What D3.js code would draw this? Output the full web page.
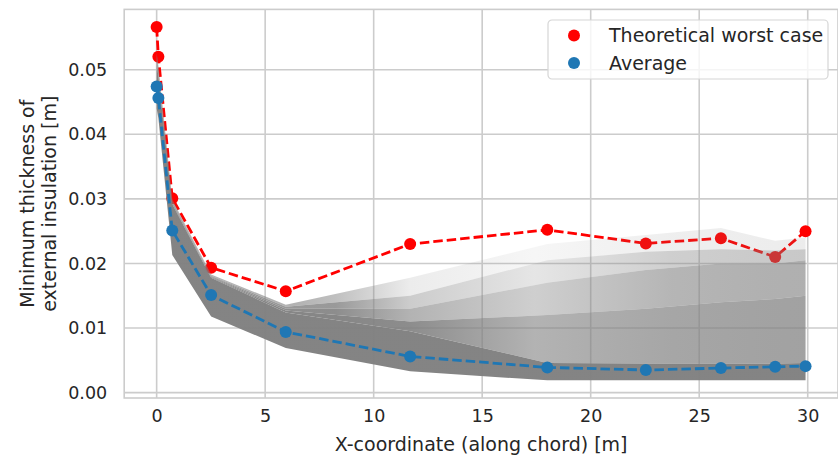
<!DOCTYPE html>
<html>
<head>
<meta charset="utf-8">
<script src="https://cdn.jsdelivr.net/npm/d3@7"></script>
<style>
  body { margin: 0; background: #fff; }
  svg text { font-family: "DejaVu Sans", sans-serif; fill: #262626; }
</style>
</head>
<body>
<svg id="chart" width="838" height="460"></svg>
<script>
// DATA: x positions along the chord [m]
const xPos = [0, 0.08, 0.72, 2.51, 5.95, 11.68, 18.0, 22.54, 26.0, 28.5, 29.9];

// worst case + average thickness [m]
const worstCase = [0.0566, 0.0520, 0.0301, 0.01935, 0.0157, 0.0230, 0.0252, 0.0231, 0.0239, 0.0210, 0.0250];
const average   = [0.0474, 0.0456, 0.0251, 0.0151, 0.0094, 0.0056, 0.0039, 0.0035, 0.0038, 0.0040, 0.0041];

// envelope of the simulated runs (grey band), bottom -> top
const runsLow   = [0.0440, 0.0425, 0.0213, 0.0118, 0.0069, 0.0033, 0.0019, 0.0019, 0.0019, 0.0019, 0.0019];
const runsDense = [0.0510, 0.0490, 0.0292, 0.0178, 0.0124, 0.0095, 0.0046, 0.0045, 0.0045, 0.0045, 0.0046];
const runsQ1    = [0.0514, 0.0494, 0.0294, 0.0179, 0.0127, 0.0110, 0.0120, 0.0130, 0.0140, 0.0145, 0.0150];
const runsQ2    = [0.0518, 0.0498, 0.0296, 0.0180, 0.0130, 0.0130, 0.0170, 0.0190, 0.0200, 0.0200, 0.0205];
const runsQ3    = [0.0522, 0.0502, 0.0297, 0.0181, 0.0133, 0.0150, 0.0205, 0.0218, 0.0222, 0.0220, 0.0222];
const runsTop   = [0.0526, 0.0506, 0.0299, 0.0183, 0.0136, 0.0178, 0.0230, 0.0244, 0.0255, 0.0235, 0.0240];

const xTicks = [0, 5, 10, 15, 20, 25, 30];
const yTicks = [0, 0.01, 0.02, 0.03, 0.04, 0.05];
const legendLabels = ["Theoretical worst case", "Average"];

// SETUP
const margin = { top: 9.4, right: 0, bottom: 62, left: 124.2 },
      width = 838 - margin.left - margin.right,
      height = 460 - margin.top - margin.bottom;

const root = d3.select("#chart");
const defs = root.append("defs");
const svg = root.append("g")
    .attr("transform", `translate(${margin.left},${margin.top})`);

// SCALES (matplotlib style 5% margins)
const xExt = d3.extent(xPos);
const xPad = (xExt[1] - xExt[0]) * 0.05;
const x = d3.scaleLinear()
    .domain([xExt[0] - xPad, xExt[1] + xPad])
    .range([0, width]);

const yExt = d3.extent(worstCase.concat(runsLow));
const yPad = (yExt[1] - yExt[0]) * 0.05;
const y = d3.scaleLinear()
    .domain([yExt[0] - yPad, yExt[1] + yPad])
    .range([height, 0]);

// GRID
svg.append("g")
    .selectAll("line")
    .data(xTicks)
    .join("line")
    .attr("x1", d => x(d)).attr("x2", d => x(d))
    .attr("y1", 0).attr("y2", height)
    .attr("stroke", "#cccccc")
    .attr("stroke-width", 1.6);

svg.append("g")
    .selectAll("line")
    .data(yTicks)
    .join("line")
    .attr("x1", 0).attr("x2", width)
    .attr("y1", d => y(d)).attr("y2", d => y(d))
    .attr("stroke", "#cccccc")
    .attr("stroke-width", 1.6);

// frame
svg.append("rect")
    .attr("x", 0).attr("y", 0)
    .attr("width", width).attr("height", height)
    .attr("fill", "none")
    .attr("stroke", "#cccccc")
    .attr("stroke-width", 1.6);

// AXES (labels only, seaborn whitegrid has no tick marks)
const xAxis = svg.append("g")
    .attr("transform", `translate(0,${height})`)
    .call(d3.axisBottom(x).tickValues(xTicks).tickSize(0).tickPadding(12).tickFormat(d3.format("d")));
xAxis.select(".domain").remove();
xAxis.selectAll("text").style("font-size", "17.5px").attr("fill", "#262626");

const yAxis = svg.append("g")
    .call(d3.axisLeft(y).tickValues(yTicks).tickSize(0).tickPadding(17).tickFormat(d3.format(".2f")));
yAxis.select(".domain").remove();
yAxis.selectAll("text").style("font-size", "17.5px").attr("fill", "#262626");

// line generators
const line = vals => d3.line()
    .x((d, i) => x(xPos[i]))
    .y(d => y(d))(vals);

const band = (lo, hi) => d3.area()
    .x((d, i) => x(xPos[i]))
    .y0((d, i) => y(lo[i]))
    .y1((d, i) => y(hi[i]))(xPos);

// WORST CASE (drawn under the runs)
svg.append("path")
    .attr("d", line(worstCase))
    .attr("fill", "none")
    .attr("stroke", "#ff0000")
    .attr("stroke-width", 2.8)
    .attr("stroke-dasharray", "9.5,4");

svg.append("g")
    .selectAll("circle")
    .data(worstCase)
    .join("circle")
    .attr("cx", (d, i) => x(xPos[i]))
    .attr("cy", d => y(d))
    .attr("r", 6)
    .attr("fill", "#ff0000");

// RUNS (grey band, layered by density; opacity fades along x where runs spread)
const layers = [
    { lo: runsQ3,    hi: runsTop,   op: [.6, .6, .6, .5, .15, .07, .13, .14, .16, .17, .17] },
    { lo: runsQ2,    hi: runsQ3,    op: [.8, .8, .8, .8, .4, .2, .38, .42, .44, .45, .45] },
    { lo: runsQ1,    hi: runsQ2,    op: [.9, .9, .9, .9, .6, .38, .58, .62, .63, .64, .65] },
    { lo: runsDense, hi: runsQ1,    op: [.95, .95, .95, .95, .9, .6, .7, .73, .74, .74, .74] },
    { lo: runsLow,   hi: runsDense, op: [.97, .97, .97, .97, .97, .97, .97, .97, .97, .97, .97] }
];

const x0 = x(xPos[0]), x1 = x(xPos[xPos.length - 1]);
layers.forEach((l, k) => {
    const grad = defs.append("linearGradient")
        .attr("id", "band" + k)
        .attr("gradientUnits", "userSpaceOnUse")
        .attr("x1", x0 + margin.left).attr("x2", x1 + margin.left)
        .attr("y1", 0).attr("y2", 0);
    grad.selectAll("stop")
        .data(l.op)
        .join("stop")
        .attr("offset", (d, i) => (x(xPos[i]) - x0) / (x1 - x0))
        .attr("stop-color", "#808080")
        .attr("stop-opacity", d => d);
});

svg.append("g")
    .selectAll("path")
    .data(layers)
    .join("path")
    .attr("d", d => band(d.lo, d.hi))
    .attr("fill", (d, k) => `url(#band${k})`);

// AVERAGE
svg.append("path")
    .attr("d", line(average))
    .attr("fill", "none")
    .attr("stroke", "#1f77b4")
    .attr("stroke-width", 2.8)
    .attr("stroke-dasharray", "9.5,4");

svg.append("g")
    .selectAll("circle")
    .data(average)
    .join("circle")
    .attr("cx", (d, i) => x(xPos[i]))
    .attr("cy", d => y(d))
    .attr("r", 6)
    .attr("fill", "#1f77b4");

// LABELS
svg.append("text")
    .attr("text-anchor", "middle")
    .attr("x", width / 2)
    .attr("y", height + 53)
    .style("font-size", "19px")
    .text("X-coordinate (along chord) [m]");

const yLab = svg.append("text")
    .attr("text-anchor", "middle")
    .attr("transform", `translate(${-margin.left + 34},${height / 2}) rotate(-90)`)
    .style("font-size", "19px");
yLab.append("tspan").attr("x", 0).attr("dy", 0).text("Minimum thickness of");
yLab.append("tspan").attr("x", 0).attr("dy", 21.5).text("external insulation [m]");

// LEGEND
const legend = svg.append("g")
    .attr("transform", `translate(${548 - margin.left},${20 - margin.top})`);

legend.append("rect")
    .attr("width", 280).attr("height", 59)
    .attr("rx", 4)
    .attr("fill", "#fff").attr("fill-opacity", 0.8)
    .attr("stroke", "#d6d6d6").attr("stroke-width", 1.2);

const legendColors = ["#ff0000", "#1f77b4"];
legendLabels.forEach((lab, i) => {
    legend.append("circle")
        .attr("cx", 26).attr("cy", 15.5 + i * 27.5)
        .attr("r", 6)
        .attr("fill", legendColors[i]);
    legend.append("text")
        .attr("x", 61).attr("y", 15.5 + i * 27.5)
        .attr("dy", "0.35em")
        .style("font-size", "19px")
        .text(lab);
});
</script>
</body>
</html>
